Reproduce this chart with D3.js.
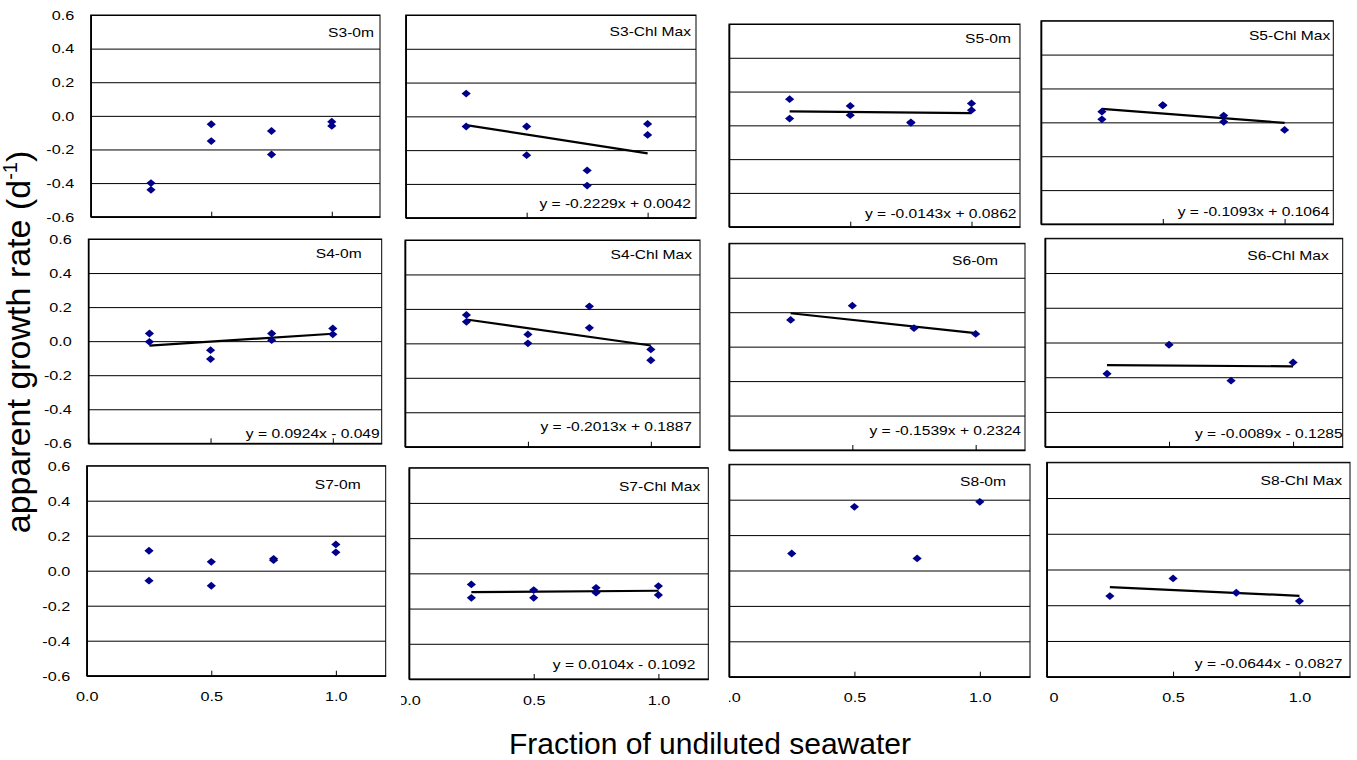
<!DOCTYPE html>
<html>
<head>
<meta charset="utf-8">
<script src="https://cdn.jsdelivr.net/npm/d3@7"></script>
<style>
  html, body { margin: 0; padding: 0; background: #fff; }
  svg { display: block; }
  text { font-family: "Liberation Sans", Arial, sans-serif; fill: #000; }
</style>
</head>
<body>
<svg id="chart" width="1357" height="760"></svg>
<script>
// ---------------- DATA ----------------
const panelNames = ["S3-0m", "S3-Chl Max", "S5-0m", "S5-Chl Max",
                    "S4-0m", "S4-Chl Max", "S6-0m", "S6-Chl Max",
                    "S7-0m", "S7-Chl Max", "S8-0m", "S8-Chl Max"];

const fractions = [0.25, 0.5, 0.75, 1.0];

// apparent growth rates (d-1) at each fraction (replicates)
const rateS3_0m     = [[-0.40, -0.44], [-0.05, -0.15], [-0.09, -0.23], [-0.035, -0.06]];
const rateS3_ChlMax = [[0.135, -0.06], [-0.06, -0.23], [-0.32, -0.41], [-0.045, -0.11]];
const rateS5_0m     = [[0.155, 0.04], [0.115, 0.06], [0.018, 0.015], [0.13, 0.09]];
const rateS5_ChlMax = [[0.063, 0.018], [0.102, 0.10], [0.04, 0.003], [-0.045]];
const rateS4_0m     = [[0.045, -0.004], [-0.053, -0.105], [0.045, 0.006], [0.075, 0.04]];
const rateS4_ChlMax = [[0.165, 0.125], [0.052, 0.0], [0.215, 0.09], [-0.035, -0.098]];
const rateS6_0m     = [[0.155], [0.238], [0.107], [0.074]];
const rateS6_ChlMax = [[-0.18], [-0.013], [-0.22], [-0.115]];
const rateS7_0m     = [[0.114, -0.057], [0.051, -0.086], [0.06, 0.068], [0.15, 0.105]];
const rateS7_ChlMax = [[-0.063, -0.139], [-0.095, -0.139], [-0.082, -0.11], [-0.072, -0.123]];
const rateS8_0m     = [[0.096], [0.36], [0.068], [0.388]];
const rateS8_ChlMax = [[-0.149], [-0.05], [-0.13], [-0.177]];

const panelRates = [rateS3_0m, rateS3_ChlMax, rateS5_0m, rateS5_ChlMax,
                    rateS4_0m, rateS4_ChlMax, rateS6_0m, rateS6_ChlMax,
                    rateS7_0m, rateS7_ChlMax, rateS8_0m, rateS8_ChlMax];

// linear trend lines (null = none shown)
const slopes     = [null, -0.2229, -0.0143, -0.1093, 0.0924, -0.2013, -0.1539, -0.0089, null, 0.0104, null, -0.0644];
const intercepts = [null,  0.0042,  0.0862,  0.1064, -0.049,  0.1887,  0.2324, -0.1285, null, -0.1092, null, -0.0827];
const equationLabels = ["", "y = -0.2229x + 0.0042", "y = -0.0143x + 0.0862", "y = -0.1093x + 0.1064",
                        "y = 0.0924x - 0.049", "y = -0.2013x + 0.1887", "y = -0.1539x + 0.2324", "y = -0.0089x - 0.1285",
                        "", "y = 0.0104x - 0.1092", "", "y = -0.0644x - 0.0827"];

const yTicks = [0.6, 0.4, 0.2, 0.0, -0.2, -0.4, -0.6];
const yTickLabels = ["0.6", "0.4", "0.2", "0.0", "-0.2", "-0.4", "-0.6"];
const xTicks = [0, 0.5, 1.0];
const xTickLabels = ["0.0", "0.5", "1.0"];

const yTitle = "apparent growth rate (d";
const yTitleSup = "-1";
const xTitle = "Fraction of undiluted seawater";

// ---------------- LAYOUT ----------------
// [left, top, right, bottom] of each plot area
const panelBoxes = [
  [90.7, 15, 380, 216.7], [405.7, 15, 696, 217.7], [729, 24, 1020, 226.7], [1041, 20.7, 1333.3, 224],
  [88.3, 239, 381.7, 443.3], [405, 240, 700, 446.7], [729, 243.3, 1025, 450], [1045, 238.3, 1342.7, 446.7],
  [86.7, 465.7, 385.7, 675.7], [409, 467.7, 708.3, 679], [729, 464.3, 1030, 676.7], [1046.7, 462.3, 1350, 676.7]
];
// name label: [inset from right, baseline below top]
const nameOffsets = [[6,22],[5,21],[9,19],[3,19],[20,19],[8,19],[27,22],[14,22],[25,23],[8,23],[24,22],[8,23]];
// equation label: [inset from right, baseline above bottom]
const eqOffsets = [[0,0],[5,9.4],[3.5,8.4],[4,8],[2,5],[8,15.7],[4,15],[0,8.4],[0,0],[13,9.7],[0,0],[7.5,8.4]];
// left clip for clipped zero labels of bottom row
const xLabelClip = [null, 401, 729, 1049];

const TX = 1.2; // horizontal text stretch of the original
const FONT = "Liberation Sans, Arial, sans-serif";
const svg = d3.select("#chart");
svg.append("rect").attr("width", 1357).attr("height", 760).attr("fill", "#fff");

const defs = svg.append("defs");

const diamond = {
  draw(ctx, size) {
    const rx = 4.6, ry = 3.9;
    ctx.moveTo(0, -ry); ctx.lineTo(rx, 0); ctx.lineTo(0, ry); ctx.lineTo(-rx, 0); ctx.closePath();
  }
};

panelNames.forEach((name, i) => {
  const [l, t, r, b] = panelBoxes[i];
  const col = i % 4, row = Math.floor(i / 4);
  const x = d3.scaleLinear().domain([0, 1.2]).range([l, r]);
  const y = d3.scaleLinear().domain([-0.6, 0.6]).range([b, t]);
  const g = svg.append("g");

  // gridlines + left axis
  const yAxis = d3.axisLeft(y).tickValues(yTicks)
    .tickSizeInner(-(r - l)).tickSizeOuter(0).tickPadding(14)
    .tickFormat((d, k) => col === 0 ? yTickLabels[k] : "");
  const ya = g.append("g").attr("transform", `translate(${l},0)`).call(yAxis);
  ya.selectAll(".tick line").attr("stroke", "#000").attr("stroke-width", 1);
  ya.select(".domain").attr("stroke", "#000").attr("stroke-width", 1.6);
  ya.selectAll(".tick text")
    .attr("font-size", 13.5).attr("font-family", FONT).attr("text-anchor", "end")
    .attr("fill", "#111").attr("x", -16.5 / TX).attr("transform", `scale(${TX},1)`);

  // border
  g.append("rect").attr("x", l).attr("y", t).attr("width", r - l).attr("height", b - t)
    .attr("fill", "none").attr("stroke", "#000").attr("stroke-width", 1);

  // bottom axis
  const xAxis = d3.axisBottom(x).tickValues(xTicks)
    .tickSizeInner(-5).tickSizeOuter(0).tickPadding(16)
    .tickFormat((d, k) => row === 2 ? xTickLabels[k] : "");
  const xa = g.append("g").attr("transform", `translate(0,${b})`).call(xAxis);
  xa.select(".domain").attr("stroke", "#000").attr("stroke-width", 1.6);
  xa.selectAll(".tick line").attr("stroke", "#000");
  xa.selectAll(".tick text")
    .attr("font-size", 13.5).attr("font-family", FONT).attr("text-anchor", "middle")
    .attr("fill", "#111").attr("transform", `scale(${TX},1)`);
  if (row === 2 && xLabelClip[col] !== null) {
    const id = "clipx" + i;
    defs.append("clipPath").attr("id", id).attr("clipPathUnits", "userSpaceOnUse").append("rect")
      .attr("x", xLabelClip[col]).attr("y", b - 20).attr("width", 400).attr("height", 60);
    xa.selectAll(".tick text").filter((d) => d === 0)
      .each(function () {
        const node = this;
        const tr = d3.select(node.parentNode).attr("transform");
        const holder = svg.append("g").attr("clip-path", `url(#${id})`)
          .append("g").attr("transform", `translate(0,${b}) ${tr}`);
        holder.node().appendChild(node);
      });
  }

  // trend line
  if (slopes[i] !== null) {
    const xs = d3.extent(fractions);
    const line = d3.line().x(d => x(d)).y(d => y(slopes[i] * d + intercepts[i]));
    g.append("path").attr("d", line(xs)).attr("fill", "none")
      .attr("stroke", "#000").attr("stroke-width", 2.2);
  }

  // points
  const pts = [];
  panelRates[i].forEach((vals, j) => vals.forEach(v => pts.push([fractions[j], v])));
  g.selectAll("path.pt").data(pts).join("path").attr("class", "pt")
    .attr("d", d3.symbol().type(diamond).size(40))
    .attr("transform", d => `translate(${x(d[0])},${y(d[1])})`)
    .attr("fill", "#00008B");

  // name label
  g.append("text").attr("text-anchor", "end").attr("fill", "#111")
    .attr("transform", `translate(${r - nameOffsets[i][0]},${t + nameOffsets[i][1]}) scale(${TX},1)`)
    .attr("font-size", 13).text(name);

  // equation
  if (equationLabels[i]) {
    g.append("text").attr("text-anchor", "end").attr("fill", "#111")
      .attr("transform", `translate(${r - eqOffsets[i][0]},${b - eqOffsets[i][1]}) scale(${TX},1)`)
      .attr("font-size", 13).text(equationLabels[i]);
  }
});

// axis titles
const yt = svg.append("text").attr("text-anchor", "middle")
  .attr("transform", "translate(30,342) rotate(-90)")
  .attr("font-size", 34).attr("fill", "#111");
yt.append("tspan").text(yTitle);
yt.append("tspan").attr("font-size", 20).attr("dy", -13).text(yTitleSup);
yt.append("tspan").attr("dy", 13).text(")");

svg.append("text").attr("text-anchor", "middle").attr("fill", "#111")
  .attr("x", 710).attr("y", 754).attr("font-size", 30).text(xTitle);
</script>
</body>
</html>
